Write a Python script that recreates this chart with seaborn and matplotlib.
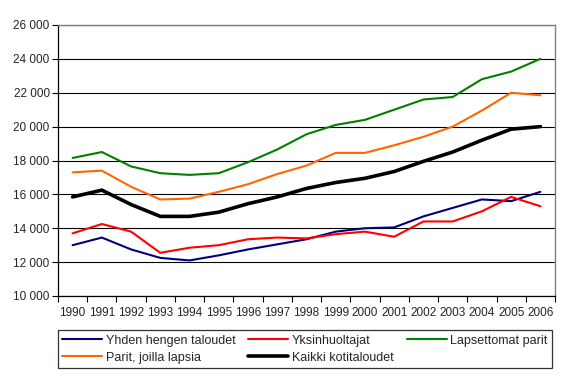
import matplotlib
matplotlib.use("Agg")
import matplotlib.pyplot as plt
import seaborn as sns
import pandas as pd
from matplotlib.ticker import FixedLocator, FuncFormatter

# Tiedot
vuodet = [str(v) for v in range(1990, 2007)]
yhden_hengen = [13000, 13450, 12750, 12250, 12100, 12400, 12750, 13050, 13350, 13800, 14000, 14050, 14700, 15200, 15700, 15600, 16150]
yksinhuoltajat = [13700, 14250, 13800, 12550, 12850, 13000, 13350, 13450, 13400, 13650, 13800, 13500, 14400, 14400, 15000, 15850, 15300]
lapsettomat = [18150, 18500, 17650, 17250, 17150, 17250, 17900, 18650, 19550, 20100, 20400, 21000, 21600, 21750, 22800, 23250, 24000]
parit_lapsia = [17300, 17400, 16450, 15700, 15750, 16150, 16600, 17200, 17700, 18450, 18450, 18900, 19400, 20000, 20950, 22000, 21850]
kaikki = [15850, 16250, 15400, 14700, 14700, 14950, 15450, 15850, 16350, 16700, 16950, 17350, 17950, 18500, 19200, 19850, 20000]

sarjat = ["Yhden hengen taloudet", "Yksinhuoltajat", "Lapsettomat parit",
          "Parit, joilla lapsia", "Kaikki kotitaloudet"]
arvot = [yhden_hengen, yksinhuoltajat, lapsettomat, parit_lapsia, kaikki]
varit = ["#000080", "#ff0000", "#008000", "#ff6600", "#000000"]

df = pd.DataFrame({
    "x": list(range(len(vuodet))) * len(sarjat),
    "arvo": [a for rivi in arvot for a in rivi],
    "sarja": [s for s in sarjat for _ in vuodet],
})

sns.set_style("white")
plt.rcParams["font.family"] = ["Liberation Sans", "DejaVu Sans"]
plt.rcParams["font.size"] = 8.5

fig = plt.figure(figsize=(5.69, 3.84), dpi=100)
ax = fig.add_axes([58 / 569, 1 - 296 / 384, 497 / 569, 271 / 384])

sns.lineplot(data=df, x="x", y="arvo", hue="sarja", hue_order=sarjat,
             palette=varit, ax=ax, legend=False)
for line, s in zip(ax.lines, sarjat):
    line.set_linewidth(2.6 if s == "Kaikki kotitaloudet" else 1.5)
    line.set_solid_joinstyle("miter")

ax.set_xlim(-0.5, len(vuodet) - 0.5)
ax.set_ylim(10000, 26000)
ax.set_yticks(range(10000, 26001, 2000))
ax.yaxis.set_major_formatter(FuncFormatter(lambda v, p: f"{int(v):,}".replace(",", " ")))
ax.set_xticks(range(len(vuodet)))
ax.set_xticklabels(vuodet)
ax.xaxis.set_minor_locator(FixedLocator([i - 0.5 for i in range(len(vuodet) + 1)]))
ax.tick_params(axis="x", which="major", length=0, pad=8)
ax.tick_params(axis="x", which="minor", length=4, width=0.8, direction="out", color="black", bottom=True)
ax.tick_params(axis="y", length=4, width=0.8, direction="out", color="black", left=True, pad=2)
ax.set_xlabel("")
ax.set_ylabel("")
ax.grid(axis="y", color="black", linewidth=0.8)
ax.set_axisbelow(True)
for side in ["left", "bottom"]:
    ax.spines[side].set_color("black")
    ax.spines[side].set_linewidth(0.9)
for side in ["top", "right"]:
    ax.spines[side].set_color("#808080")
    ax.spines[side].set_linewidth(1.0)

# Selite: rivit täytetään sarakkeittain
jarjestys = [0, 3, 1, 4, 2]
kahvat = [ax.lines[i] for i in jarjestys]
nimet = [sarjat[i] for i in jarjestys]
leg = fig.legend(kahvat, nimet, ncol=3, mode="expand",
                 bbox_to_anchor=(58 / 569, 1 - 368 / 384, 494 / 569, 41 / 384),
                 loc="lower left", frameon=True, fancybox=False,
                 edgecolor="black", handlelength=3.2, handletextpad=0.3,
                 borderaxespad=0, labelspacing=0.4, borderpad=0.35, fontsize=9)
leg.get_frame().set_linewidth(0.9)

fig.savefig("out.png", dpi=100)
